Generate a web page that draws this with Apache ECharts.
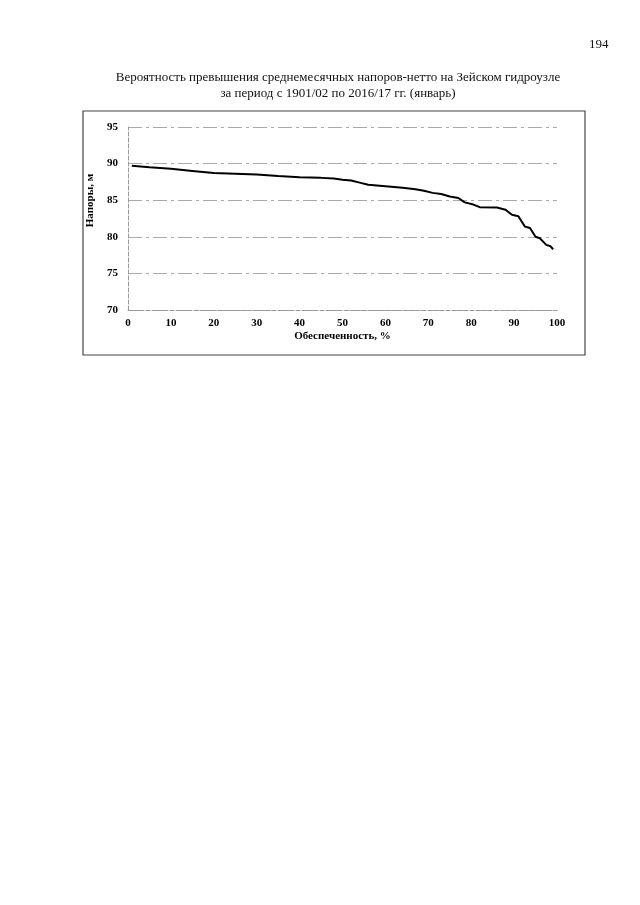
<!DOCTYPE html>
<html>
<head>
<meta charset="utf-8">
<script src="https://cdn.jsdelivr.net/npm/echarts@6/dist/echarts.min.js"></script>
<style>html,body{margin:0;padding:0;background:#fff;}#c{width:640px;height:905px;}</style>
</head>
<body>
<div id="c"></div>
<script>
const titleLines = ['Вероятность превышения среднемесячных напоров-нетто на Зейском гидроузле', 'за период с 1901/02 по 2016/17 гг. (январь)'];
const pageNumber = '194';
const xAxisName = 'Обеспеченность, %';
const yAxisName = 'Напоры, м';
const probability = [0.9, 5, 10, 15, 20, 25, 30, 35, 40, 45, 48, 50, 52, 54, 56, 60, 64, 67, 69, 71, 73, 75, 77, 78.5, 80.5, 82, 86, 88, 89.5, 91, 92.5, 93.7, 95, 96, 97.5, 98.5, 99.1];
const heads = [89.7, 89.5, 89.3, 89.0, 88.7, 88.6, 88.5, 88.3, 88.15, 88.05, 87.95, 87.8, 87.7, 87.4, 87.1, 86.9, 86.7, 86.5, 86.3, 86.0, 85.85, 85.5, 85.3, 84.7, 84.4, 84.05, 84.0, 83.7, 83.0, 82.8, 81.4, 81.2, 80.0, 79.8, 78.9, 78.7, 78.3];

const serif = '"Liberation Serif", "DejaVu Serif", serif';
const chart = echarts.init(document.getElementById('c'), null, {renderer: 'canvas'});
chart.setOption({
  animation: false,
  backgroundColor: '#fff',
  title: [
    {text: titleLines.join('\n'), left: 333, top: 65, textAlign: 'center',
     textStyle: {fontFamily: serif, fontSize: 13, fontWeight: 'normal', color: '#111', lineHeight: 16}},
    {text: pageNumber, left: 584, top: 33,
     textStyle: {fontFamily: serif, fontSize: 13, fontWeight: 'normal', color: '#111'}}
  ],
  graphic: [
    {type: 'rect', shape: {x: 83, y: 111, width: 502, height: 244},
     style: {fill: 'none', stroke: '#444', lineWidth: 1.2}}
  ],
  grid: {left: 128, top: 127, width: 429, height: 183, containLabel: false},
  xAxis: {
    type: 'value', min: 0, max: 100, interval: 10,
    name: xAxisName, nameLocation: 'middle', nameGap: 21,
    nameTextStyle: {fontFamily: serif, fontSize: 11, fontWeight: 'bold', color: '#000'},
    axisLine: {show: true, lineStyle: {color: '#999', type: 'dashed', width: 1}},
    axisTick: {show: false},
    axisLabel: {fontFamily: serif, fontSize: 11, fontWeight: 'bold', color: '#000', margin: 8},
    splitLine: {show: false}
  },
  yAxis: {
    type: 'value', min: 70, max: 95, interval: 5,
    name: yAxisName, nameLocation: 'middle', nameGap: 30,
    nameTextStyle: {fontFamily: serif, fontSize: 11, fontWeight: 'bold', color: '#000', padding: [0, 0, 0, 36]},
    axisLine: {show: true, lineStyle: {color: '#999', type: 'dashed', width: 1}},
    axisTick: {show: false},
    axisLabel: {fontFamily: serif, fontSize: 11, fontWeight: 'bold', color: '#000', margin: 10},
    splitLine: {show: true, lineStyle: {color: '#aaa', type: [14, 4, 3, 4], width: 1}}
  },
  series: [{
    type: 'line',
    data: probability.map((p, i) => [p, heads[i]]),
    showSymbol: false,
    lineStyle: {color: '#000', width: 2},
    itemStyle: {color: '#000'}
  }]
});
</script>
</body>
</html>
